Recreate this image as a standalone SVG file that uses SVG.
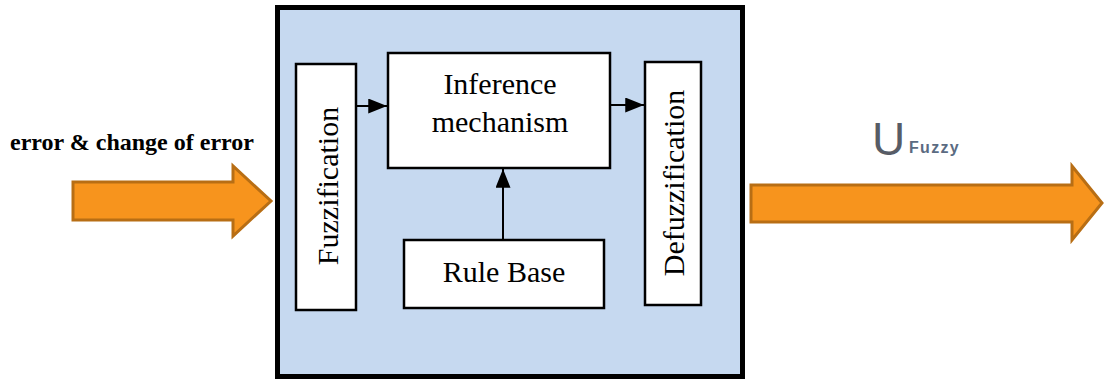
<svg xmlns="http://www.w3.org/2000/svg" width="1104" height="381" viewBox="0 0 1104 381">
<defs>
<style>
.blk{fill:#fff;stroke:#000;stroke-width:2.5}
.lbl{font-family:"Liberation Serif","Times New Roman",serif;font-size:30px;fill:#000}
.big{fill:#f7941d;stroke:#b86e14;stroke-width:3;stroke-linejoin:miter}
.con{stroke:#000;stroke-width:2;fill:none}
</style>
<marker id="ah" viewBox="0 0 20 16" refX="20" refY="8" markerWidth="19" markerHeight="15" markerUnits="userSpaceOnUse" orient="auto">
<path d="M0,0 L20,8 L0,16 z" fill="#000"/>
</marker>
</defs>
<rect width="1104" height="381" fill="#fff"/>
<g id="controller">
<rect x="277.5" y="7.5" width="465" height="369" fill="#c6d9f0" stroke="#000" stroke-width="5"/>
</g>
<g id="input-arrow">
<path class="big" d="M73,182 L233,182 L233,166 L271,201 L233,236 L233,220 L73,220 Z"/>
<text x="10" y="150" font-family="'Liberation Serif','Times New Roman',serif" font-weight="bold" font-size="24" fill="#000">error &amp; change of error</text>
</g>
<g id="output-arrow">
<path class="big" d="M751,185 L1072,185 L1072,166 L1102,203 L1072,240 L1072,222 L751,222 Z"/>
<text x="872" y="155" font-family="'Liberation Sans',Arial,sans-serif" font-size="46" fill="#575c66">U</text>
<text x="909" y="153" font-family="'Liberation Sans',Arial,sans-serif" font-weight="bold" font-size="16" letter-spacing="1.3" fill="#5b6b82">Fuzzy</text>
</g>
<g id="fuzzification">
<rect class="blk" x="296" y="64" width="60" height="246"/>
<text class="lbl" transform="translate(338,186) rotate(-90)" text-anchor="middle">Fuzzification</text>
</g>
<g id="inference">
<rect class="blk" x="388" y="53" width="222" height="115"/>
<text class="lbl" x="500" y="94" text-anchor="middle">Inference</text>
<text class="lbl" x="500" y="132" text-anchor="middle">mechanism</text>
</g>
<g id="defuzzification">
<rect class="blk" x="645" y="62" width="56" height="243"/>
<text class="lbl" transform="translate(684,183) rotate(-90)" text-anchor="middle">Defuzzification</text>
</g>
<g id="rulebase">
<rect class="blk" x="404" y="240" width="200" height="68"/>
<text class="lbl" x="504" y="282" text-anchor="middle">Rule Base</text>
</g>
<g id="connectors">
<line class="con" x1="357" y1="106" x2="387" y2="106" marker-end="url(#ah)"/>
<line class="con" x1="611" y1="105" x2="644" y2="105" marker-end="url(#ah)"/>
<line class="con" x1="503" y1="239" x2="503" y2="169" marker-end="url(#ah)"/>
</g>
</svg>
